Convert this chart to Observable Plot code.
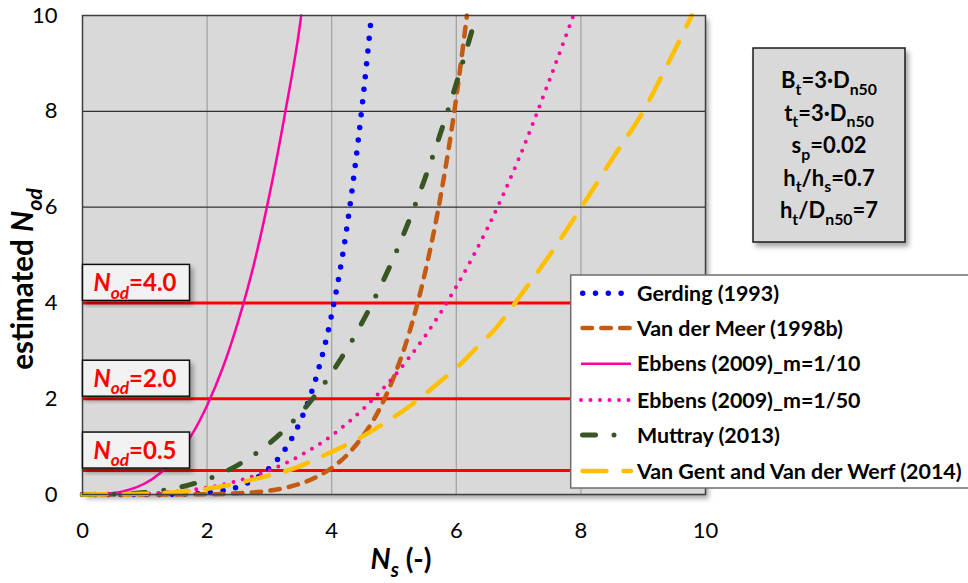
<!DOCTYPE html>
<html><head><meta charset="utf-8">
<script src="https://cdn.jsdelivr.net/npm/d3@7"></script>
<script src="https://cdn.jsdelivr.net/npm/@observablehq/plot@0.6"></script>
<style>
body{margin:0;background:#fff;}
#chart{width:968px;height:583px;}
</style></head><body><div id="chart"></div>
<script>
// ---- data ----
const xTicks = [0, 2, 4, 6, 8, 10];
const yTicks = [0, 2, 4, 6, 8, 10];
const thresholds = [0.5, 2, 4];
const thresholdLabels = ["=0.5", "=2.0", "=4.0"];

const gerding = [[0,0],[1,0.0004],[1.5,0.005],[2,0.037],[2.25,0.08],[2.5,0.16],[2.75,0.31],[3,0.55],[3.25,0.94],[3.5,1.54],[3.75,2.44],[4,3.76],[4.25,5.63],[4.5,8.25],[4.63,9.9]];
const vanDerMeer = [[0,0],[1,0],[2,0.006],[2.5,0.024],[3,0.081],[3.25,0.139],[3.5,0.228],[3.75,0.36],[4,0.554],[4.25,0.83],[4.5,1.22],[4.75,1.74],[5,2.46],[5.25,3.4],[5.5,4.64],[5.75,6.24],[6,8.29],[6.17,10]];
const ebbens10 = [[0,0],[0.5,0.03],[0.75,0.1],[1,0.23],[1.25,0.45],[1.5,0.78],[1.75,1.24],[2,1.86],[2.25,2.64],[2.5,3.62],[2.75,4.8],[3,6.25],[3.25,7.95],[3.5,9.9],[3.51,10]];
const ebbens50 = [[0,0],[0.5,0.002],[1,0.017],[1.5,0.059],[2,0.144],[2.5,0.288],[3,0.506],[3.5,0.816],[4,1.23],[4.5,1.78],[5,2.47],[5.5,3.31],[6,4.34],[6.5,5.56],[7,7.0],[7.5,8.67],[7.88,10]];
const muttray = [[0,0],[0.5,0.005],[1,0.04],[1.5,0.134],[2,0.318],[2.5,0.62],[3,1.07],[3.5,1.7],[4,2.54],[4.5,3.62],[5,4.96],[5.5,6.61],[6,8.58],[6.3,9.9]];
const vanGent = [[0,0],[0.5,0.005],[1,0.015],[1.36,0.035],[2,0.12],[2.43,0.22],[3,0.4],[3.34,0.52],[3.98,0.88],[4.38,1.13],[4.75,1.41],[5,1.62],[5.29,1.88],[5.47,2.07],[5.8,2.42],[6,2.64],[6.27,2.99],[6.41,3.18],[6.6,3.42],[6.84,3.81],[7,4.1],[7.5,5.0],[8,5.98],[8.5,7.0],[9,8.0],[9.4,9.0],[9.78,10]];

const seriesNames = ["Gerding (1993)","Van der Meer (1998b)","Ebbens (2009)_m=1/10","Ebbens (2009)_m=1/50","Muttray (2013)","Van Gent and Van der Werf (2014)"];
const seriesData = [gerding, vanDerMeer, ebbens10, ebbens50, muttray, vanGent];
const seriesColors = ["#0000ff","#c55a11","#ff00a0","#ff00a0","#375623","#ffc000"];

const paramLines = [
  [{t:"B"},{t:"t",sub:true},{t:"=3·D"},{t:"n50",sub:true}],
  [{t:"t"},{t:"t",sub:true},{t:"=3·D"},{t:"n50",sub:true}],
  [{t:"s"},{t:"p",sub:true},{t:"=0.02"}],
  [{t:"h"},{t:"t",sub:true},{t:"/h"},{t:"s",sub:true},{t:"=0.7"}],
  [{t:"h"},{t:"t",sub:true},{t:"/D"},{t:"n50",sub:true},{t:"=7"}]
];

// ---- styles ----
const FONT = "Lato, 'Open Sans', 'DejaVu Sans', sans-serif";
const lineStyles = [
  {strokeWidth:5.5, strokeDasharray:"0 12.8", strokeLinecap:"round"},
  {strokeWidth:4.5, strokeDasharray:"9.5 9.3", strokeLinecap:"round"},
  {strokeWidth:2.5},
  {strokeWidth:4, strokeDasharray:"0 9.5", strokeLinecap:"round"},
  {strokeWidth:5, strokeDasharray:"13 18.5 0 18.5", strokeLinecap:"round"},
  {strokeWidth:4.5, strokeDasharray:"24 17", strokeLinecap:"round"}
];

const lineMarks = seriesData.map((d, i) => Plot.line(d, {
  x: p => p[0], y: p => p[1], stroke: seriesColors[i], curve: "monotone-x", ...lineStyles[i]
}));

const plot = Plot.plot({
  width: 968, height: 583,
  marginLeft: 82, marginRight: 263, marginTop: 15, marginBottom: 89,
  style: {fontFamily: FONT, background: "white", color: "black"},
  x: {domain: [0, 10]},
  y: {domain: [0, 10]},
  marks: [
    Plot.frame({fill: "#d9d9d9", stroke: null}),
    Plot.gridX([2, 4, 6, 8], {stroke: "#a0a0a0", strokeOpacity: 1, strokeWidth: 1.2}),
    Plot.gridY([6, 8], {stroke: "#303030", strokeOpacity: 1, strokeWidth: 1.2}),
    Plot.ruleY(thresholds, {stroke: "#ff0000", strokeWidth: 3}),
    ...lineMarks,
    Plot.frame({stroke: "#404040", strokeWidth: 1.5}),
    Plot.axisX(xTicks, {tickSize: 0, tickPadding: 28, fontSize: 22, label: null}),
    Plot.axisY(yTicks, {tickSize: 0, tickPadding: 25, fontSize: 22, label: null})
  ]
});

const svg = d3.select(plot);
const ys = plot.scale("y");
const defs = svg.insert("defs", ":first-child");
defs.append("filter").attr("id","sh").attr("x","-10%").attr("y","-10%").attr("width","130%").attr("height","130%")
  .append("feDropShadow").attr("dx",3).attr("dy",4).attr("stdDeviation",2.5)
  .attr("flood-color","#000").attr("flood-opacity",0.35);
svg.select('[aria-label="frame"]').attr("filter","url(#sh)");

function rich(g, x, y, parts, size, opts = {}) {
  const t = g.append("text").attr("x", x).attr("y", y)
    .attr("text-anchor", opts.anchor || "middle")
    .attr("font-family", FONT).attr("font-size", size)
    .attr("font-weight", opts.weight || "bold")
    .attr("fill", opts.fill || "black");
  if (opts.transform) t.attr("transform", opts.transform);
  const shift = size * 0.3;
  let shifted = 0;
  parts.forEach(p => {
    const ts = t.append("tspan").text(p.t);
    if (p.i) ts.attr("font-style", "italic");
    if (p.sub) {
      ts.attr("font-size", size * 0.72);
      if (!shifted) { ts.attr("dy", shift); shifted = shift; }
    } else if (shifted) { ts.attr("dy", -shifted); shifted = 0; }
  });
  return t;
}

const ann = svg.append("g");

// axis titles
rich(ann, 401, 569, [{t:"N", i:true},{t:"s", i:true, sub:true},{t:" (-)"}], 28);
rich(ann, 0, 0, [{t:"estimated "},{t:"N", i:true},{t:"od", i:true, sub:true}], 29.5,
  {transform: "translate(33,279) rotate(-90)"});

// threshold label boxes
thresholds.forEach((v, i) => {
  const yb = ys.apply(v) - 2;
  ann.append("rect").attr("x", 82.5).attr("y", yb - 36).attr("width", 107).attr("height", 36)
    .attr("fill", "#f2f2f2").attr("stroke", "#111").attr("stroke-width", 1.5).attr("filter","url(#sh)");
  rich(ann, 135, yb - 9, [{t:"N", i:true},{t:"od", i:true, sub:true},{t:thresholdLabels[i]}], 24, {fill:"#ff0000"});
});

// parameters box
ann.append("rect").attr("x", 753).attr("y", 48).attr("width", 152).attr("height", 194)
  .attr("fill", "#d9d9d9").attr("stroke", "#1a1a1a").attr("stroke-width", 1.5).attr("filter","url(#sh)");
paramLines.forEach((parts, i) => rich(ann, 829, 88 + i * 32.5, parts, 22));

// legend
const lg = svg.append("g");
lg.append("rect").attr("x", 570.7).attr("y", 275).attr("width", 420).attr("height", 213)
  .attr("fill", "white").attr("stroke", "#6e6e6e").attr("stroke-width", 1.5);
const legY = [293.3, 328, 363.7, 400, 435, 471];
const legX0 = [582.7, 582.5, 581, 581, 582.5, 582.5];
seriesNames.forEach((name, i) => {
  const st = lineStyles[i];
  const l = lg.append("line").attr("x1", legX0[i]).attr("x2", 631).attr("y1", legY[i]).attr("y2", legY[i])
    .attr("stroke", seriesColors[i]).attr("stroke-width", st.strokeWidth);
  if (st.strokeDasharray) l.attr("stroke-dasharray", st.strokeDasharray);
  if (st.strokeLinecap) l.attr("stroke-linecap", st.strokeLinecap);
  lg.append("text").attr("x", 637).attr("y", legY[i]).attr("dy", "0.36em")
    .attr("text-anchor", "start")
    .attr("font-family", FONT).attr("font-weight", "bold").attr("font-size", 21.4).text(name);
});

document.getElementById("chart").appendChild(plot);
</script>
</body></html>
